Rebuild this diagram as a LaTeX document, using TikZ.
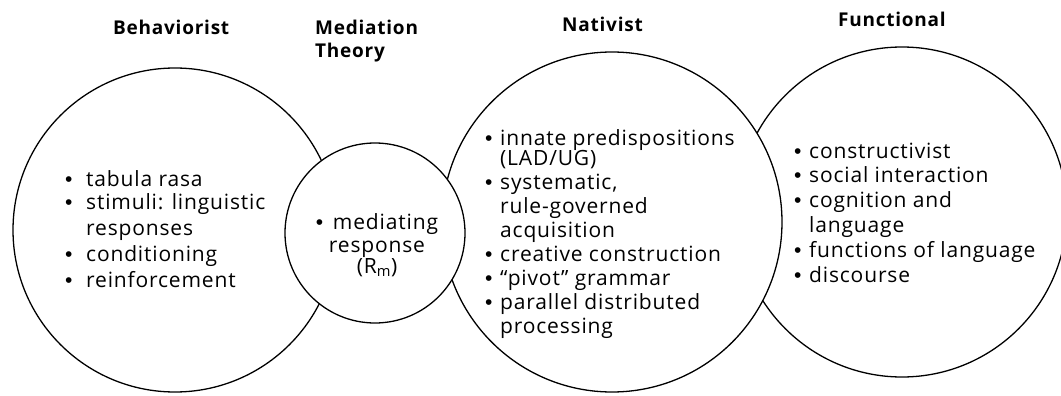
\documentclass[tikz,border=0pt]{standalone}
\usepackage{fontspec}
\setmainfont{Open Sans}[LetterSpace=4]
\newfontfamily\bulletfont{Liberation Sans}
% bullet in a box of given width, and matching indent for continuation lines
\newcommand\itm[1][21pt]{\makebox[#1][l]{{\bulletfont\textbullet}}}
\newcommand\cont[1][21pt]{\hspace*{#1}}
\begin{document}
\begin{tikzpicture}[x=1pt,y=-1pt,
  ring/.style={draw=black, line width=1.3pt, fill=white, circle, inner sep=0pt},
  heading/.style={font=\fontsize{19}{23}\selectfont\bfseries, inner sep=0pt, align=left, anchor=base west},
  points/.style={inner sep=0pt, align=left, anchor=base west},
  body/.style={font=\fontsize{21}{#1}\selectfont},
]
\useasboundingbox (0,0) rectangle (1061,396);
\clip (0,0) rectangle (1061,396);

% circles, back to front
\node[ring, minimum size=330pt] (func) at (902,212) {};
\node[ring, minimum size=340pt] (nat)  at (612,222) {};
\node[ring, minimum size=324pt] (beh)  at (175,230) {};
\node[ring, minimum size=180pt] (med)  at (375,233) {};

% headings (anchored on the baseline of their last line)
\node[heading] (hbeh) at (113,35) {Behaviorist};
\node[heading] (hmed) at (315,58) {Mediation\\Theory};
\node[heading] (hnat) at (562,32) {Nativist};
\node[heading] (hfun) at (838,27) {Functional};

% lists (anchored on the baseline of their last line)
\node[points, body=26] (lbeh) at (65,287)
  {\itm tabula rasa\\[-3pt]
   \itm stimuli: linguistic\\
   \cont responses\\
   \itm conditioning\\
   \itm reinforcement};

\node[inner sep=0pt, align=center, anchor=base, body=24] (lmed) at (377,273)
  {\itm[17pt]mediating\\[-1pt]
   response\\[-3pt]
   (R\textsubscript{m})};

\node[points, body=24] (lnat) at (485,333)
  {\itm[15pt]innate predispositions\\[-4pt]
   \cont[15pt](LAD/UG)\\
   \itm[15pt]systematic,\\
   \cont[15pt]rule-governed\\
   \cont[15pt]acquisition\\
   \itm[15pt]creative construction\\
   \itm[15pt]``pivot'' grammar\\
   \itm[15pt]parallel distributed\\
   \cont[15pt]processing};

\node[points, body=24.8] (lfun) at (794,282)
  {\itm[15pt]constructivist\\
   \itm[15pt]social interaction\\
   \itm[15pt]cognition and\\
   \cont[15pt]language\\
   \itm[15pt]functions of language\\
   \itm[15pt]discourse};
\end{tikzpicture}
\end{document}
